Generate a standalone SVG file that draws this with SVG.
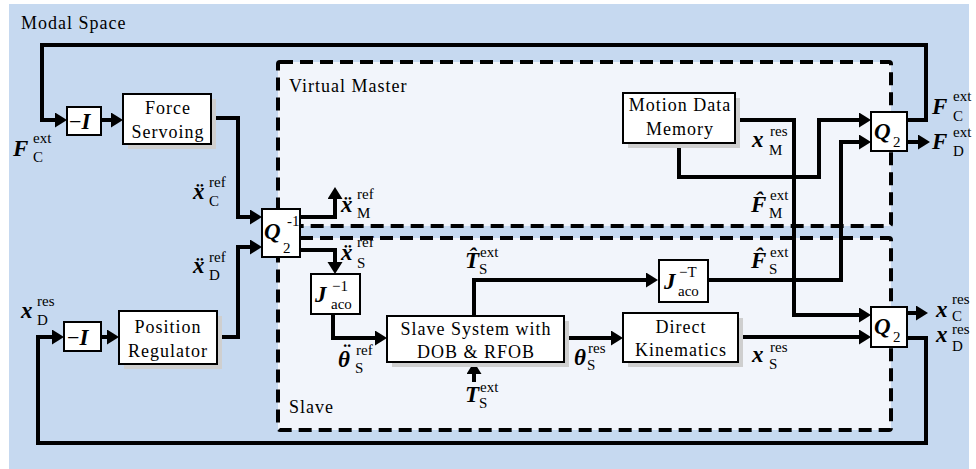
<svg xmlns="http://www.w3.org/2000/svg" width="976" height="469" viewBox="0 0 976 469">
<defs>
<marker id="ah" markerUnits="userSpaceOnUse" markerWidth="14" markerHeight="16" refX="2" refY="7.5" orient="auto">
<path d="M0,0 L12,7.5 L0,15 z" fill="#000"/>
</marker>
<style>
.bg{fill:#c6d9f0}
.region{fill:#f2f5fb;stroke:#000;stroke-width:4;stroke-dasharray:13 7}
.box{fill:#fff;stroke:#000;stroke-width:2}
.shadow{fill:#cfcfcf}
.wire{fill:none;stroke:#000;stroke-width:4;stroke-linejoin:miter}
.arr{marker-end:url(#ah)}
.lbl{font-family:"Liberation Serif","Times New Roman",serif;font-size:18px;letter-spacing:1px;fill:#000}
.mid{text-anchor:middle}
.sym{font-family:"Liberation Serif","Times New Roman",serif;font-size:23px;font-weight:bold;font-style:italic;fill:#000}
.ss{font-family:"Liberation Serif","Times New Roman",serif;font-size:15px;fill:#000}
.rm{font-family:"Liberation Serif","Times New Roman",serif;font-size:22px;fill:#000}
</style>
</defs>

<rect class="bg" x="9" y="4" width="960" height="465"/>
<text class="lbl" x="21" y="29">Modal Space</text>

<g id="virtual-master">
<rect class="region" x="278" y="62" width="613" height="164" rx="2"/>
<text class="lbl" x="289" y="92">Virtual Master</text>
</g>
<g id="slave">
<rect class="region" x="278" y="238" width="613" height="192" rx="2"/>
<text class="lbl" x="289" y="413">Slave</text>
</g>

<g id="connectors">
<path class="wire arr" d="M907,120 H926 V45 H42 V120 H57"/>
<path class="wire arr" d="M101,120 H113"/>
<path class="wire arr" d="M211,118 H238 V217 H252"/>
<path class="wire arr" d="M217,337 H238 V247 H252"/>
<path class="wire arr" d="M101,337 H109"/>
<path class="wire arr" d="M907,338 H926 V443 H38 V337 H54"/>
<path class="wire arr" d="M300,217 H335 V197"/>
<path class="wire arr" d="M300,250 H335 V264"/>
<path class="wire arr" d="M333,314 V338 H377"/>
<path class="wire arr" d="M474,316 V280 H648"/>
<path class="wire arr" d="M474,382 V372"/>
<path class="wire arr" d="M564,338 H613"/>
<path class="wire arr" d="M738,337 H861"/>
<path class="wire arr" d="M735,120 H794 V315 H861"/>
<path class="wire arr" d="M679,143 V177 H819 V120 H861"/>
<path class="wire arr" d="M708,280 H841 V142 H861"/>
<path class="wire arr" d="M907,142 H920"/>
<path class="wire arr" d="M907,313 H918"/>
</g>

<g id="neg-I-top">
<rect class="box" x="67" y="107" width="34" height="28"/>
<text x="69" y="129"><tspan class="rm">−</tspan><tspan class="sym">I</tspan></text>
</g>
<g id="force-servoing">
<rect class="shadow" x="128" y="99" width="88" height="50"/>
<rect class="box" x="123" y="94" width="88" height="50"/>
<text class="lbl mid" x="168" y="114">Force</text>
<text class="lbl mid" x="168" y="138">Servoing</text>
</g>
<g id="neg-I-bottom">
<rect class="box" x="64" y="322" width="37" height="29"/>
<text x="67" y="345"><tspan class="rm">−</tspan><tspan class="sym">I</tspan></text>
</g>
<g id="position-regulator">
<rect class="shadow" x="124" y="316" width="98" height="53"/>
<rect class="box" x="119" y="311" width="98" height="53"/>
<text class="lbl mid" x="168" y="333">Position</text>
<text class="lbl mid" x="168" y="357">Regulator</text>
</g>
<g id="q2-inv">
<rect class="box" x="262" y="209" width="38" height="48"/>
<text class="sym" x="264" y="239" font-size="24">Q</text>
<text class="ss" x="283" y="253">2</text>
<text class="ss" x="287" y="226" font-size="13">-1</text>
</g>
<g id="j-inv">
<rect class="box" x="311" y="274" width="49" height="40"/>
<text class="sym" x="315" y="302">J</text>
<text class="ss" x="332" y="291">−1</text>
<text class="ss" x="331" y="309" font-size="14">aco</text>
</g>
<g id="slave-system">
<rect class="shadow" x="392" y="321" width="177" height="46"/>
<rect class="box" x="387" y="316" width="177" height="46"/>
<text class="lbl mid" x="476" y="335">Slave System with</text>
<text class="lbl mid" x="476" y="358">DOB &amp; RFOB</text>
</g>
<g id="j-trans">
<rect class="box" x="659" y="260" width="49" height="42"/>
<text class="sym" x="664" y="289">J</text>
<text class="ss" x="679" y="277">−T</text>
<text class="ss" x="678" y="296" font-size="14">aco</text>
</g>
<g id="direct-kinematics">
<rect class="shadow" x="628" y="318" width="115" height="49"/>
<rect class="box" x="623" y="313" width="115" height="49"/>
<text class="lbl mid" x="681" y="333">Direct</text>
<text class="lbl mid" x="681" y="356">Kinematics</text>
</g>
<g id="motion-data-memory">
<rect class="shadow" x="628" y="98" width="112" height="50"/>
<rect class="box" x="623" y="93" width="112" height="50"/>
<text class="lbl mid" x="680" y="111">Motion Data</text>
<text class="lbl mid" x="680" y="135">Memory</text>
</g>
<g id="q2-top">
<rect class="box" x="871" y="112" width="36" height="39"/>
<text class="sym" x="874" y="139" font-size="24">Q</text>
<text class="ss" x="893" y="147">2</text>
</g>
<g id="q2-bottom">
<rect class="box" x="871" y="307" width="36" height="40"/>
<text class="sym" x="874" y="334" font-size="24">Q</text>
<text class="ss" x="893" y="342">2</text>
</g>

<g id="labels">
<g id="lbl-FC-left"><text class="sym" x="13" y="156">F</text><text class="ss" x="33" y="143">ext</text><text class="ss" x="33" y="162">C</text></g>
<g id="lbl-xC-ref"><text class="sym" x="193" y="199">ẍ</text><text class="ss" x="209" y="187">ref</text><text class="ss" x="209" y="206">C</text></g>
<g id="lbl-xD-ref"><text class="sym" x="193" y="273">ẍ</text><text class="ss" x="209" y="262">ref</text><text class="ss" x="209" y="280">D</text></g>
<g id="lbl-xD-res-left"><text class="sym" x="21" y="318">x</text><text class="ss" x="37" y="306">res</text><text class="ss" x="37" y="325">D</text></g>
<g id="lbl-xM-ref"><text class="sym" x="341" y="212">ẍ</text><text class="ss" x="357" y="199">ref</text><text class="ss" x="357" y="218">M</text></g>
<g id="lbl-xS-ref"><text class="sym" x="341" y="260">ẍ</text><text class="ss" x="357" y="247">ref</text><text class="ss" x="357" y="268">S</text></g>
<g id="lbl-thS-ref"><text class="sym" x="338" y="367">θ</text><text class="sym" x="342" y="360">¨</text><text class="ss" x="356" y="355">ref</text><text class="ss" x="355" y="373">S</text></g>
<g id="lbl-TS-hat"><text class="sym" x="465" y="268">T̂</text><text class="ss" x="480" y="257">ext</text><text class="ss" x="479" y="274">S</text></g>
<g id="lbl-TS-ext"><text class="sym" x="465" y="402">T</text><text class="ss" x="480" y="392">ext</text><text class="ss" x="479" y="408">S</text></g>
<g id="lbl-thS-res"><text class="sym" x="574" y="365">θ</text><text class="ss" x="588" y="353">res</text><text class="ss" x="587" y="370">S</text></g>
<g id="lbl-FS-hat"><text class="sym" x="751" y="268">F̂</text><text class="ss" x="770" y="257">ext</text><text class="ss" x="769" y="274">S</text></g>
<g id="lbl-xS-res"><text class="sym" x="752" y="362">x</text><text class="ss" x="770" y="352">res</text><text class="ss" x="769" y="369">S</text></g>
<g id="lbl-xM-res"><text class="sym" x="752" y="147">x</text><text class="ss" x="770" y="136">res</text><text class="ss" x="769" y="155">M</text></g>
<g id="lbl-FM-hat"><text class="sym" x="751" y="212">F̂</text><text class="ss" x="770" y="200">ext</text><text class="ss" x="769" y="218">M</text></g>
<g id="lbl-FC-right"><text class="sym" x="932" y="114">F</text><text class="ss" x="953" y="101">ext</text><text class="ss" x="953" y="121">C</text></g>
<g id="lbl-FD-right"><text class="sym" x="932" y="149">F</text><text class="ss" x="953" y="137">ext</text><text class="ss" x="953" y="156">D</text></g>
<g id="lbl-xC-res"><text class="sym" x="936" y="317">x</text><text class="ss" x="952" y="304" font-size="14">res</text><text class="ss" x="952" y="321" font-size="14">C</text></g>
<g id="lbl-xD-res-right"><text class="sym" x="936" y="342">x</text><text class="ss" x="952" y="334" font-size="14">res</text><text class="ss" x="952" y="351" font-size="14">D</text></g>
</g>
</svg>
